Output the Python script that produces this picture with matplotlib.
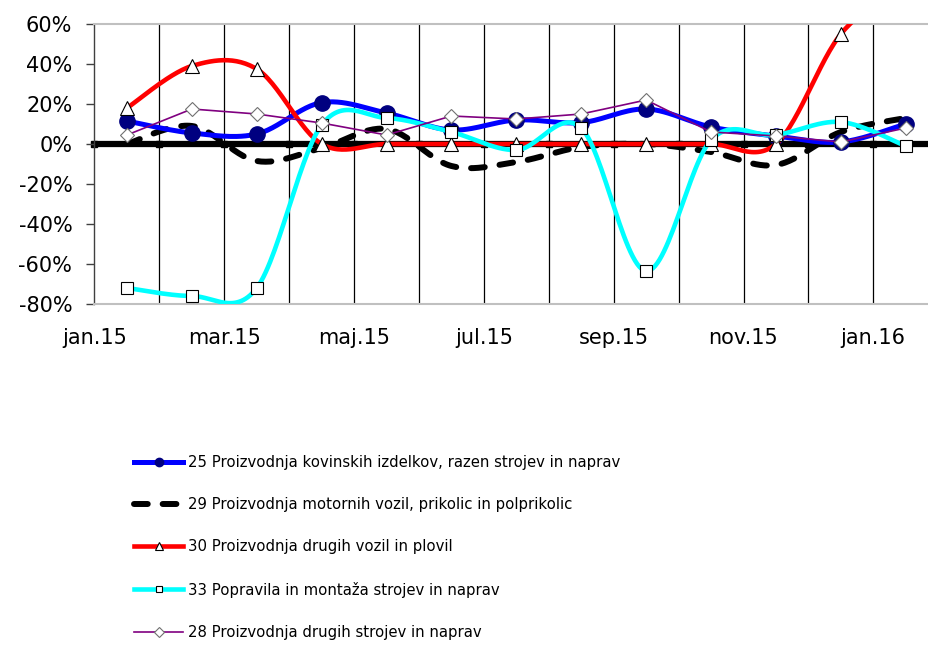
import numpy as np
import matplotlib
matplotlib.use('Agg')
import matplotlib.pyplot as plt
from matplotlib.lines import Line2D

# Podatki (letne stopnje rasti, %)
meseci = ['jan.15', 'feb.15', 'mar.15', 'apr.15', 'maj.15', 'jun.15', 'jul.15',
          'avg.15', 'sep.15', 'okt.15', 'nov.15', 'dec.15', 'jan.16']
kovinski = [11.5, 5.5, 5, 20.7, 15.5, 7, 12, 10.7, 17.5, 8.5, 4, 1, 10]
motorna = [0, 9, -8.5, -2, 7.5, -11, -9, -1.5, 0, -4, -10.5, 6, 13]
vozila = [18, 39, 37.5, 0, 0, 0, 0, 0, 0, 0, 0, 55, 80]
popravila = [-72, -76, -72, 9.5, 13, 6, -3, 8, -63.5, 2, 4.5, 11, -1]
stroji = [4.5, 17.5, 15, 10.5, 4.5, 14, 12.5, 15, 22, 6, 4, 1, 8]

labels = ['25 Proizvodnja kovinskih izdelkov, razen strojev in naprav',
          '29 Proizvodnja motornih vozil, prikolic in polprikolic',
          '30 Proizvodnja drugih vozil in plovil',
          '33 Popravila in montaža strojev in naprav',
          '28 Proizvodnja drugih strojev in naprav']


def smooth(x, y, n=30):
    """Gladka krivulja skozi točke (Catmull-Rom kot Bezier)."""
    x = np.asarray(x, float)
    y = np.asarray(y, float)
    px = np.r_[x[0], x, x[-1]]
    py = np.r_[y[0], y, y[-1]]
    t = np.linspace(0, 1, n)
    ox, oy = [], []
    for i in range(1, len(px) - 2):
        for p, o in ((px, ox), (py, oy)):
            p0, p1, p2, p3 = p[i - 1], p[i], p[i + 1], p[i + 2]
            c1 = p1 + (p2 - p0) / 6
            c2 = p2 - (p3 - p1) / 6
            b = (1 - t) ** 3 * p1 + 3 * (1 - t) ** 2 * t * c1 + 3 * (1 - t) * t ** 2 * c2 + t ** 3 * p2
            o.extend(b if i == 1 else b[1:])
    return np.array(ox), np.array(oy)


xs = np.arange(len(meseci)) + 0.5

fig = plt.figure(figsize=(9.29, 6.47), dpi=100)
ax = fig.add_axes([94.5 / 929, 1 - 304 / 647, (929 - 94.5) / 929, 280 / 647])
ax.set_xlim(0, (929 - 94.5) / 64.9)
ax.set_ylim(-80, 60)

# navpične črte
for g in range(1, 13):
    ax.axvline(g, color='black', lw=0.9, zorder=0.5)

# os pri 0
ax.axhline(0, color='black', lw=4.5, zorder=1)
ax.plot(np.arange(13), np.zeros(13), ls='none', marker='s', ms=5,
        color='black', zorder=1, clip_on=False)

sx, sy = smooth(xs, motorna)
ax.plot(sx, sy, color='black', lw=4.3, ls=(0, (2.3, 2.5)), dash_capstyle='round', zorder=2)

sx, sy = smooth(xs, kovinski)
ax.plot(sx, sy, color='#0000FF', lw=3.6, zorder=3)
ax.plot(xs, kovinski, ls='none', marker='o', ms=11, color='#000080', zorder=3)

sx, sy = smooth(xs, vozila)
ax.plot(sx, sy, color='#FF0000', lw=3.3, zorder=4)
ax.plot(xs, vozila, ls='none', marker='^', ms=10, mfc='white', mec='black', mew=0.8, zorder=4)

sx, sy = smooth(xs, popravila)
ax.plot(sx, sy, color='#00FFFF', lw=3.3, zorder=5)
ax.plot(xs, popravila, ls='none', marker='s', ms=8, mfc='white', mec='black', mew=0.8, zorder=5)

ax.plot(xs, stroji, color='#800080', lw=1.2, marker='D', ms=7, mfc='white',
        mec='#707070', mew=0.8, zorder=6)

# osi
for s in ['top', 'bottom']:
    ax.spines[s].set_color('#C0C0C0')
    ax.spines[s].set_linewidth(1.5)
ax.spines['right'].set_visible(False)
ax.spines['left'].set_color('#404040')
ax.spines['left'].set_linewidth(1)

ax.set_yticks(range(-80, 61, 20))
ax.set_yticklabels([f'{v}%' for v in range(-80, 61, 20)])
ax.tick_params(axis='y', length=6, width=1, color='#404040', pad=10, labelsize=15)
ax.set_xticks(range(0, 13, 2))
ax.set_xticklabels(meseci[::2])
ax.tick_params(axis='x', length=0, pad=17, labelsize=15)

# legenda
handles = [
    Line2D([], [], color='#0000FF', lw=3.6, marker='o', ms=6, mfc='#000080', mec='#000080'),
    Line2D([], [], color='black', lw=4.3, ls=(0, (2.3, 2.5)), dash_capstyle='round'),
    Line2D([], [], color='#FF0000', lw=3.3, marker='^', ms=6, mfc='white', mec='black', mew=0.8),
    Line2D([], [], color='#00FFFF', lw=3.3, marker='s', ms=5, mfc='white', mec='black', mew=0.8),
    Line2D([], [], color='#800080', lw=1.2, marker='D', ms=5, mfc='white', mec='#707070', mew=0.8),
]
fig.legend(handles, labels, loc='upper left', bbox_to_anchor=(134 / 929, 1 - 455 / 647),
           frameon=False, fontsize=10.7, handlelength=3.3, handletextpad=0.35,
           labelspacing=1.83, borderpad=0, borderaxespad=0)

fig.savefig('out.png', dpi=100)
